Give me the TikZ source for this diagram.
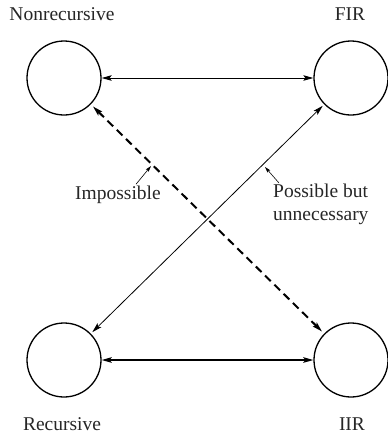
\documentclass[tikz,border=0pt]{standalone}
\usepackage{fontspec}
\setmainfont{Liberation Serif}
\usepackage{xcolor}
\usetikzlibrary{arrows.meta}

\tikzset{
  state/.style={circle,draw,black,line width=1.3pt,minimum size=74pt,inner sep=0pt},
  lbl/.style={text=black!85,inner sep=1pt,font=\fontsize{19.5}{23}\selectfont},
  twoway/.style={{Stealth[length=10pt,width=5.5pt,inset=2pt]}-{Stealth[length=10pt,width=5.5pt,inset=2pt]}},
  pointer/.style={-{Stealth[length=6pt,width=3.5pt,inset=1pt]},line width=0.6pt}
}

\begin{document}
\begin{tikzpicture}[x=1pt,y=-1pt]
\useasboundingbox (0,0) rectangle (388,437);

\node[state](nonrec) at (64,78){};
\node[state](fir) at (351,78){};
\node[state](rec) at (64,360){};
\node[state](iir) at (351,360){};

\node[lbl,anchor=base](nonrecl) at (62,20){Nonrecursive};
\node[lbl,anchor=base](firl) at (350,20){FIR};
\node[lbl,anchor=base](recl) at (62,430){Recursive};
\node[lbl,anchor=base](iirl) at (352,430){IIR};

\draw[line width=1pt,twoway](nonrec) -- (fir);
\draw[line width=1.6pt,twoway](rec) -- (iir);
\draw[line width=0.8pt,twoway,shorten <=2pt,shorten >=2pt](rec) -- (fir);
\draw[line width=2pt,dash pattern=on 8pt off 5pt,twoway,shorten <=3pt,shorten >=3pt](nonrec) -- (iir);

\coordinate (pimp) at (151,166);
\coordinate (ppos) at (265,167);

\node[lbl,anchor=base](impossible) at (118,199){Impossible};
\node[lbl,anchor=north west,align=left](possible) at (272,183){Possible but\\unnecessary};

\draw[pointer]([xshift=18pt]impossible.north) -- (pimp);
\draw[pointer]([xshift=7pt]possible.north west) -- (ppos);

\end{tikzpicture}
\end{document}
